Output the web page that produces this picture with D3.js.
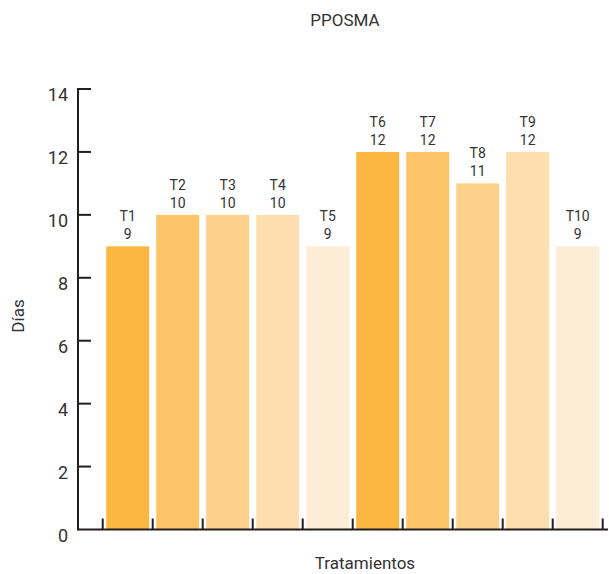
<!DOCTYPE html>
<html><head><meta charset="utf-8">
<script src="https://cdn.jsdelivr.net/npm/d3@7"></script>
<style>body{margin:0;background:#fff}svg{display:block}text{font-family:Roboto,"DejaVu Sans",sans-serif;fill:#333}</style>
</head><body>
<script>
const categories = ["T1","T2","T3","T4","T5","T6","T7","T8","T9","T10"];
const values = [9,10,10,10,9,12,12,11,12,9];
const barColors = ["#fbb741","#fcc568","#fcd18b","#fddeae","#feedd6","#fbb741","#fcc568","#fcd18b","#fddeae","#feedd6"];
const yTicks = [0,2,4,6,8,10,12,14];
const title = "PPOSMA";
const yTitle = "Días";
const xTitle = "Tratamientos";

const W = 609, H = 574;
const svg = d3.select("body").append("svg").attr("width", W).attr("height", H);
const axisX = 78, x0 = 102.7, x1 = 602.7, yTop = 89, yBase = 529.5;
const x = d3.scaleBand().domain(categories).range([x0, x1]).paddingInner(0.14).paddingOuter(0.07);
const y = d3.scaleLinear().domain([0, 14]).range([yBase, yTop]);
const ink = "#231f20";

// bars
svg.selectAll("rect.bar").data(values).enter().append("rect")
  .attr("x", (d,i) => x(categories[i]))
  .attr("y", d => y(d))
  .attr("width", x.bandwidth())
  .attr("height", d => y(0) - y(d))
  .attr("fill", (d,i) => barColors[i]);

// labels
const lbl = svg.selectAll("g.lbl").data(values).enter().append("g");
lbl.append("text").attr("x", (d,i) => x(categories[i]) + x.bandwidth()/2)
  .attr("y", d => y(d) - 25).attr("text-anchor","middle").attr("font-size", 14)
  .text((d,i) => categories[i]);
lbl.append("text").attr("x", (d,i) => x(categories[i]) + x.bandwidth()/2)
  .attr("y", d => y(d) - 7).attr("text-anchor","middle").attr("font-size", 14)
  .text(d => d);

// y axis
svg.append("line").attr("x1", axisX).attr("x2", axisX).attr("y1", y(14)-1).attr("y2", y(0)+1)
  .attr("stroke", ink).attr("stroke-width", 2);
yTicks.forEach(t => {
  if (t > 0) svg.append("line").attr("x1", axisX).attr("x2", axisX + 13).attr("y1", y(t)).attr("y2", y(t))
    .attr("stroke", ink).attr("stroke-width", 2);
  svg.append("text").attr("x", 68).attr("y", y(t) + 12).attr("text-anchor","end")
    .attr("font-size", 18).text(t);
});

// x axis
svg.append("line").attr("x1", axisX).attr("x2", 608).attr("y1", yBase).attr("y2", yBase)
  .attr("stroke", ink).attr("stroke-width", 2);
const bounds = categories.map(c => x(c) - x.step()*x.paddingInner()/2).concat([x1]);
bounds[0] = x0;
bounds.forEach(b => {
  svg.append("line").attr("x1", b).attr("x2", b).attr("y1", yBase).attr("y2", yBase - 11)
    .attr("stroke", ink).attr("stroke-width", 2);
});

// titles
svg.append("text").attr("x", 345).attr("y", 26).attr("text-anchor","middle").attr("font-size", 17).text(title);
svg.append("text").attr("x", 365).attr("y", 569).attr("text-anchor","middle").attr("font-size", 17).text(xTitle);
svg.append("text").attr("transform", "translate(24,316) rotate(-90)").attr("text-anchor","middle").attr("font-size", 17).text(yTitle);
</script>
</body></html>
